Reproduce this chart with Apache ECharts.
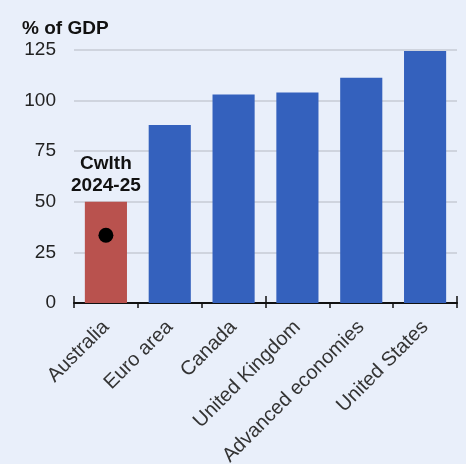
<!DOCTYPE html>
<html>
<head>
<meta charset="utf-8">
<script src="https://cdn.jsdelivr.net/npm/echarts@6/dist/echarts.min.js"></script>
<style>
  html, body { margin: 0; padding: 0; background: #e9effa; }
  #chart { width: 466px; height: 464px; }
</style>
</head>
<body>
<div id="chart"></div>
<script>
// Gross government debt, % of GDP
const categories = ['Australia', 'Euro area', 'Canada', 'United Kingdom', 'Advanced economies', 'United States'];
const debtValues = [50, 88, 103, 104, 111.3, 124.5];
const cwlthValue = 33.5;            // Commonwealth 2024-25 marker
const cwlthLabel = 'Cwlth\n2024-25';
const yTicks = { min: 0, max: 125, interval: 25 };
const unitTitle = '% of GDP';

const FONT = '"Liberation Sans", Arial, sans-serif';
const BLUE = '#3461bd';
const RED = '#b9524e';

const barData = debtValues.map((v, i) => {
  if (i === 0) {
    return {
      value: v,
      itemStyle: { color: RED },
      label: {
        show: true,
        position: 'top',
        distance: 5,
        formatter: cwlthLabel,
        fontFamily: FONT,
        fontSize: 19,
        fontWeight: 'bold',
        lineHeight: 22,
        color: '#111'
      }
    };
  }
  return { value: v, itemStyle: { color: BLUE } };
});

const chart = echarts.init(document.getElementById('chart'), null, { renderer: 'canvas' });
chart.setOption({
  backgroundColor: '#e9effa',
  animation: false,
  title: {
    text: unitTitle,
    left: 17,
    top: 14,
    textStyle: { fontFamily: FONT, fontSize: 19, fontWeight: 'bold', color: '#111' }
  },
  grid: { left: 74, right: 9, top: 50, bottom: 161, containLabel: false, outerBoundsMode: 'none' },
  xAxis: [
    {
      type: 'category',
      data: categories,
      axisLine: { lineStyle: { color: '#111', width: 2 } },
      axisTick: { show: true, length: 5, lineStyle: { color: '#111', width: 1.5 } },
      axisLabel: {
        rotate: 45,
        margin: 21,
        interval: 0,
        fontFamily: FONT,
        fontSize: 20,
        color: '#333'
      }
    },
    {
      type: 'category',
      data: categories,
      position: 'bottom',
      axisLine: { show: false },
      axisTick: { show: true, inside: true, length: 7, lineStyle: { color: '#111', width: 1.5 } },
      axisLabel: { show: false }
    }
  ],
  yAxis: {
    type: 'value',
    min: yTicks.min,
    max: yTicks.max,
    interval: yTicks.interval,
    axisLine: { show: false },
    axisTick: { show: false },
    axisLabel: { margin: 18, fontFamily: FONT, fontSize: 19, color: '#222' },
    splitLine: { lineStyle: { color: '#c6cbd5', width: 1.5 } }
  },
  series: [
    {
      type: 'bar',
      data: barData,
      barCategoryGap: '34%',
      z: 2
    },
    {
      type: 'scatter',
      data: [[categories[0], cwlthValue]],
      symbol: 'circle',
      symbolSize: 15,
      itemStyle: { color: '#000', opacity: 1 },
      z: 5
    }
  ]
});
</script>
</body>
</html>
